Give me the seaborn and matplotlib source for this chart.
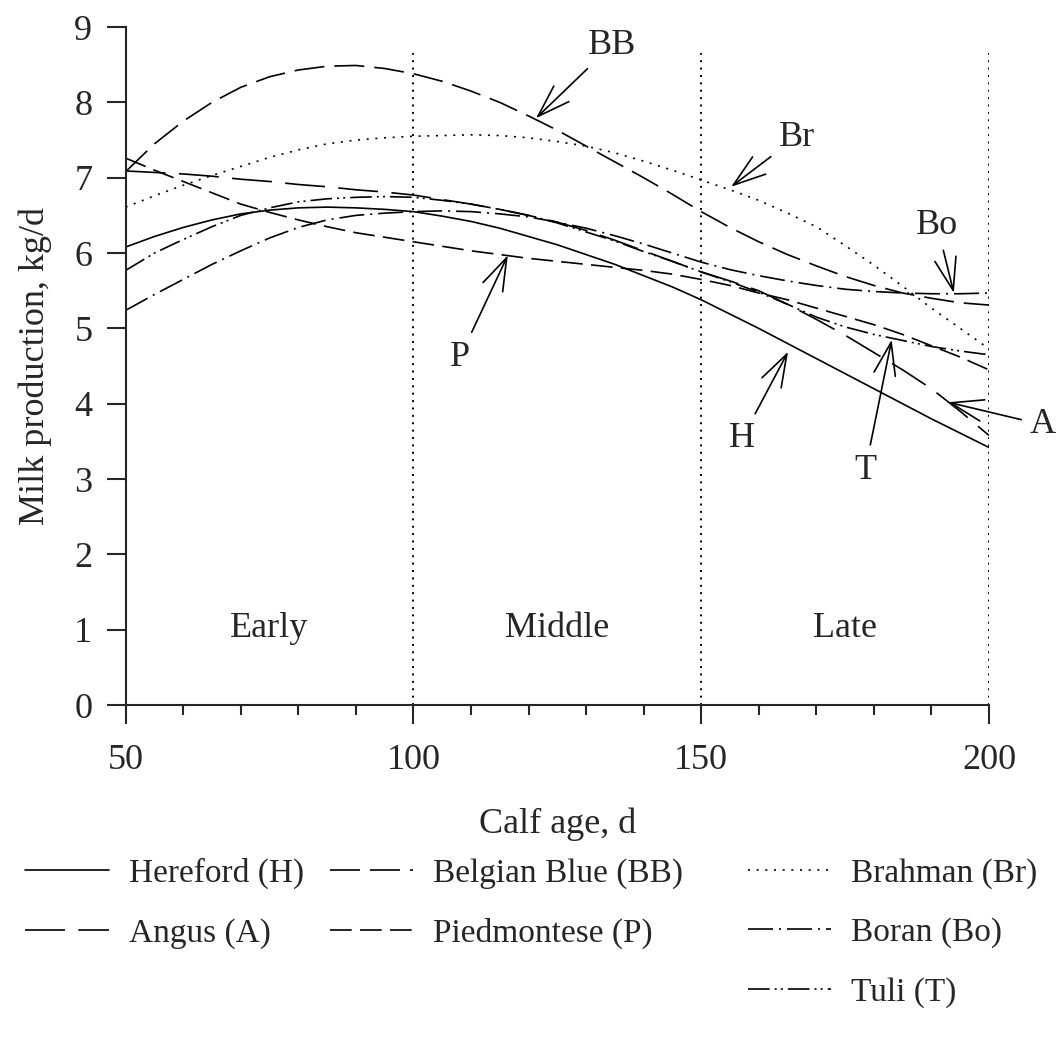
import pandas as pd
import matplotlib
matplotlib.use("Agg")
import matplotlib.pyplot as plt
from matplotlib.lines import Line2D
from matplotlib.ticker import MultipleLocator
import seaborn as sns

#Data (kg/d at each calf age, every 5 d)
days = list(range(50, 201, 5))

hereford = [6.08, 6.22, 6.34, 6.44, 6.52, 6.57, 6.60, 6.61, 6.60, 6.58, 6.55,
            6.49, 6.42, 6.33, 6.22, 6.11, 5.98, 5.85, 5.70, 5.55, 5.38,
            5.19, 5.00, 4.80, 4.60, 4.40, 4.20, 4.00, 3.80, 3.61, 3.42]
angus = [7.09, 7.07, 7.05, 7.02, 6.98, 6.95, 6.91, 6.88, 6.84, 6.81, 6.77,
         6.71, 6.65, 6.58, 6.50, 6.41, 6.30, 6.17, 6.03, 5.89, 5.75,
         5.63, 5.50, 5.32, 5.12, 4.91, 4.68, 4.45, 4.20, 3.90, 3.58]
belgian_blue = [7.08, 7.45, 7.75, 8.00, 8.20, 8.34, 8.43, 8.48, 8.49, 8.45, 8.38,
                8.28, 8.15, 8.00, 7.82, 7.63, 7.42, 7.21, 7.00, 6.78, 6.55,
                6.34, 6.15, 5.98, 5.83, 5.69, 5.57, 5.47, 5.40, 5.34, 5.31]
piedmontese = [7.26, 7.10, 6.95, 6.80, 6.65, 6.54, 6.44, 6.35, 6.27, 6.21, 6.15,
               6.09, 6.03, 5.98, 5.93, 5.89, 5.85, 5.81, 5.77, 5.72, 5.65,
               5.57, 5.47, 5.38, 5.27, 5.16, 5.05, 4.92, 4.77, 4.62, 4.45]
brahman = [6.61, 6.76, 6.90, 7.03, 7.15, 7.27, 7.37, 7.45, 7.50, 7.53, 7.55,
           7.56, 7.57, 7.56, 7.53, 7.48, 7.42, 7.33, 7.22, 7.10, 6.97,
           6.84, 6.70, 6.53, 6.35, 6.10, 5.84, 5.56, 5.27, 5.00, 4.73]
boran = [5.24, 5.45, 5.65, 5.85, 6.03, 6.20, 6.34, 6.44, 6.50, 6.53, 6.55,
         6.56, 6.55, 6.52, 6.48, 6.41, 6.33, 6.23, 6.12, 6.00, 5.88,
         5.78, 5.70, 5.63, 5.57, 5.52, 5.49, 5.47, 5.46, 5.46, 5.47]
tuli = [5.77, 6.00, 6.18, 6.35, 6.50, 6.60, 6.68, 6.72, 6.74, 6.75, 6.74,
        6.70, 6.65, 6.58, 6.50, 6.40, 6.28, 6.16, 6.02, 5.89, 5.75,
        5.62, 5.48, 5.32, 5.15, 5.02, 4.92, 4.84, 4.76, 4.70, 4.65]

breeds = ["Hereford (H)", "Angus (A)", "Belgian Blue (BB)", "Piedmontese (P)",
          "Brahman (Br)", "Boran (Bo)", "Tuli (T)"]
series = [hereford, angus, belgian_blue, piedmontese, brahman, boran, tuli]

#Stage labels
stage_names = ["Early", "Middle", "Late"]
stage_centres = [75, 125, 175]
stage_bounds = [100, 150, 200]

#Arrow annotations: label, text position, arrow tip
notes = [
    ("BB", (134.5, 8.76), (121.3, 7.79)),
    ("Br", (166.6, 7.54), (155.2, 6.88)),
    ("Bo", (191.0, 6.37), (193.9, 5.47)),
    ("P", (108.1, 4.62), (116.4, 5.97)),
    ("H", (157.1, 3.54), (165.1, 4.69)),
    ("T", (178.5, 3.12), (183.1, 4.85)),
    ("A", (209.4, 3.72), (192.9, 4.02)),
]

#Build long-form table
df = pd.DataFrame({
    "day": days * len(breeds),
    "milk": [v for s in series for v in s],
    "breed": [b for b in breeds for _ in days],
})

#Dash patterns (in units of line width)
dash_map = {
    "Hereford (H)": "",
    "Angus (A)": (24, 8),
    "Belgian Blue (BB)": (18, 6),
    "Piedmontese (P)": (13, 5),
    "Brahman (Br)": (1.2, 4),
    "Boran (Bo)": (15, 3.6, 1.2, 3.6),
    "Tuli (T)": (13, 3, 1.2, 2.5, 1.2, 3),
}

sns.set_style("ticks")
plt.rcParams["font.family"] = ["Liberation Serif", "DejaVu Serif"]

fig = plt.figure(figsize=(10.56, 10.4), dpi=100)
ax = fig.add_axes([0.119, 0.322, 0.8175, 0.652])

sns.lineplot(
    data=df, x="day", y="milk", style="breed", style_order=breeds,
    dashes=dash_map, color="black", linewidth=1.2, legend=False, ax=ax,
)

#Stage boundaries
ax.vlines(stage_bounds, 0, 8.65, colors="black", linewidth=1.4,
          linestyles=[(0, (1, 2.8))])
for name, xc in zip(stage_names, stage_centres):
    ax.text(xc, 1.02, name, ha="center", va="center", fontsize=26)

#Arrows with labels
for lab, txy, tip in notes:
    ax.annotate(
        lab, xy=tip, xytext=txy, ha="center", va="center", fontsize=26,
        annotation_clip=False,
        arrowprops=dict(arrowstyle="->,head_length=0.9,head_width=0.3",
                        color="black", lw=1.2, shrinkA=4, shrinkB=0),
    )

#Axes formatting
ax.set_xlim(50, 200)
ax.set_ylim(0, 9)
ax.set_xticks([50, 100, 150, 200])
ax.xaxis.set_minor_locator(MultipleLocator(10))
ax.set_yticks(range(10))
ax.tick_params(axis="x", which="major", length=14, width=1.5, pad=14, labelsize=26)
ax.tick_params(axis="x", which="minor", length=7, width=1.5)
ax.tick_params(axis="y", which="major", length=14, width=1.5, pad=10, labelsize=26)
ax.set_xlabel("Calf age, d", fontsize=26, labelpad=22)
ax.set_ylabel("Milk production, kg/d", fontsize=26, labelpad=16)
for sp in ["left", "bottom"]:
    ax.spines[sp].set_linewidth(1.5)
sns.despine(ax=ax)

#Legend as three columns (2, 2, 3 entries)
handles = [Line2D([0], [0], color="black", lw=1.2,
                  linestyle="-" if dash_map[b] == "" else (0, dash_map[b]))
           for b in breeds]
col_groups = [[0, 1], [2, 3], [4, 5, 6]]
col_x = [0.024, 0.3125, 0.708]
for idx, xa in zip(col_groups, col_x):
    fig.legend(
        [handles[i] for i in idx], [breeds[i] for i in idx],
        loc="upper left", bbox_to_anchor=(xa, 1 - 858 / 1040),
        frameon=False, fontsize=24, handlelength=2.5, handletextpad=0.6,
        labelspacing=0.86, borderpad=0, borderaxespad=0,
    )

fig.savefig("out.png", dpi=100)
